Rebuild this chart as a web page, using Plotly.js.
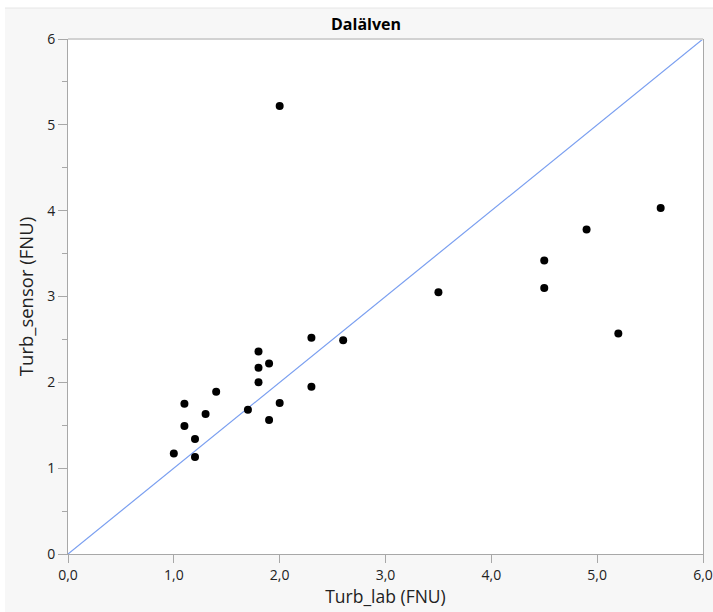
<!DOCTYPE html>
<html>
<head>
<meta charset="utf-8">
<script src="https://cdn.plot.ly/plotly-3.0.1.min.js"></script>
<style>html,body{margin:0;padding:0;background:#fff;}#chart{width:713px;height:612px;}</style>
</head>
<body>
<div id="chart"></div>
<script>
const turbLab = [1.0, 1.1, 1.1, 1.2, 1.2, 1.3, 1.4, 1.7, 1.8, 1.8, 1.8, 1.9, 1.9, 2.0, 2.0, 2.3, 2.3, 2.6, 3.5, 4.5, 4.5, 4.9, 5.2, 5.6];
const turbSensor = [1.17, 1.75, 1.49, 1.34, 1.13, 1.63, 1.89, 1.68, 2.36, 2.17, 2.0, 2.22, 1.56, 1.76, 5.22, 2.52, 1.95, 2.49, 3.05, 3.42, 3.10, 3.78, 2.57, 4.03];
const refLineX = [0, 6];
const refLineY = [0, 6];
const xTickVals = [0, 1, 2, 3, 4, 5, 6];
const yTickVals = [0, 1, 2, 3, 4, 5, 6];

const W = 713, H = 612;
const font = 'Segoe UI, "Open Sans", "Noto Sans", sans-serif';

const traces = [
  {x: refLineX, y: refLineY, mode: 'lines', type: 'scatter',
   line: {color: '#7a9ff0', width: 1.2}, hoverinfo: 'skip', showlegend: false},
  {x: turbLab, y: turbSensor, mode: 'markers', type: 'scatter',
   marker: {color: '#000', size: 8}, showlegend: false}
];

const layout = {
  width: W, height: H,
  margin: {l: 68, r: 10, t: 39, b: 58},
  paper_bgcolor: '#f7f7f7',
  plot_bgcolor: '#ffffff',
  separators: ', ',
  font: {family: font, color: '#222', size: 14},
  title: {text: '<b>Dalälven</b>', font: {size: 16, color: '#000', family: font},
          x: 366 / W, xanchor: 'center', xref: 'container',
          y: 1 - 24 / H, yanchor: 'middle', yref: 'container'},
  xaxis: {range: [0, 6], tickvals: xTickVals, tickformat: '.1f',
          showgrid: false, zeroline: false, showline: true, linecolor: '#a8a8a8', linewidth: 1,
          ticks: 'outside', ticklen: 8, tickcolor: '#a8a8a8', tickfont: {size: 14, color: '#222'},
          title: {text: 'Turb_lab (FNU)', font: {size: 17.5, color: '#222'}, standoff: 4},
          fixedrange: true},
  yaxis: {range: [0, 6], tickvals: yTickVals,
          showgrid: false, zeroline: false, showline: true, linecolor: '#a8a8a8', linewidth: 1,
          mirror: true,
          ticks: 'outside', ticklen: 9, tickcolor: '#a8a8a8', tickfont: {size: 14, color: '#222'},
          minor: {dtick: 0.5, ticks: 'outside', ticklen: 5, tickcolor: '#a8a8a8', showgrid: false},
          title: {text: 'Turb_sensor (FNU)', font: {size: 18.5, color: '#222'}, standoff: 8},
          fixedrange: true},
  shapes: [
    {type: 'rect', xref: 'paper', yref: 'paper', layer: 'below',
     x0: -68 / 635, x1: (713 - 68) / 635 + 0.01, y0: 1 + 31 / 515, y1: 1 + 40 / 515,
     fillcolor: '#ffffff', line: {width: 0}},
    {type: 'rect', xref: 'paper', yref: 'paper', layer: 'below',
     x0: -70 / 635, x1: -63 / 635, y0: -60 / 515, y1: 1 + 40 / 515,
     fillcolor: '#ffffff', line: {width: 0}},
    {type: 'line', xref: 'paper', yref: 'paper',
     x0: -63 / 635, x1: 1.02, y0: 1 + 31 / 515, y1: 1 + 31 / 515,
     line: {color: '#e6e6e6', width: 1}},
    {type: 'line', xref: 'paper', yref: 'paper',
     x0: 0, x1: 1, y0: 1, y1: 1,
     line: {color: '#d2d2d2', width: 2}}
  ]
};

Plotly.newPlot('chart', traces, layout, {displayModeBar: false, staticPlot: true});
</script>
</body>
</html>
